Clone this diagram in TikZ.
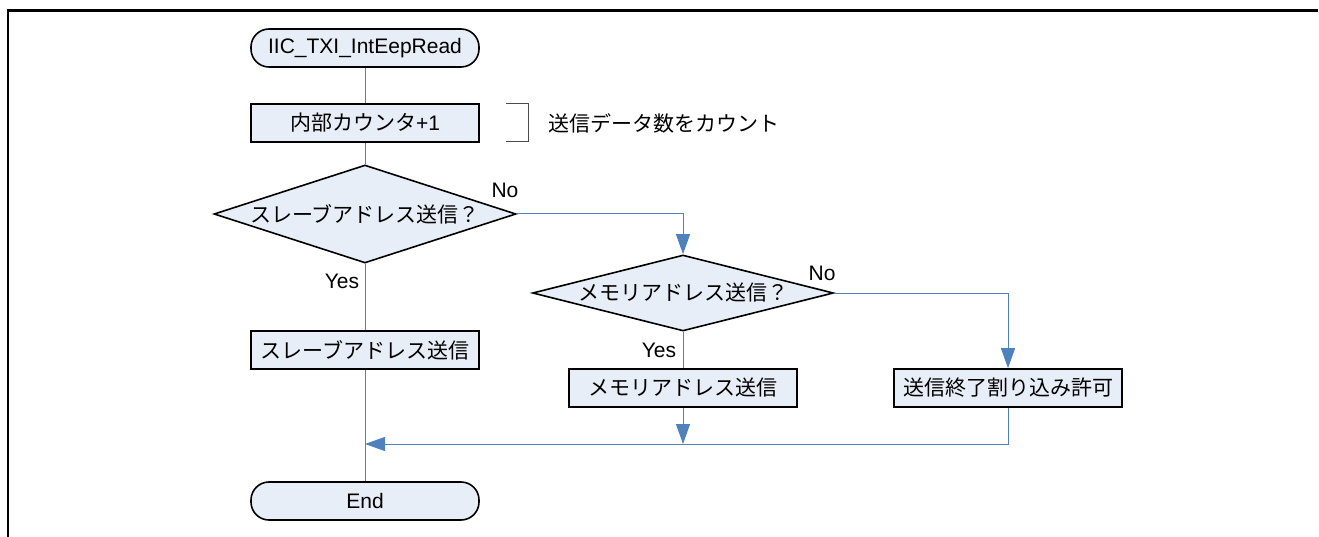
\documentclass[tikz,border=0pt]{standalone}
\usepackage{fontspec}
\setmainfont{Liberation Sans}
\newfontfamily\jp{Noto Sans CJK JP}
\usetikzlibrary{shapes,arrows.meta,positioning,calc}
\definecolor{boxfill}{RGB}{232,238,247}
\definecolor{flowblue}{RGB}{79,129,189}

\begin{document}
\begin{tikzpicture}[x=1pt,y=-1pt,font=\fontsize{21}{25}\selectfont]
  \tikzstyle{box}=[draw, line width=1.6pt, fill=boxfill, minimum width=228pt, minimum height=38pt, inner sep=0pt]
  \tikzstyle{terminal}=[box, rectangle, rounded corners=18pt]
  \tikzstyle{process}=[box, rectangle]
  \tikzstyle{decision}=[box, diamond, minimum width=302pt, minimum height=98pt, shape aspect=3]
  \tikzstyle{flow}=[draw=flowblue, line width=1pt]
  \tikzstyle{arrowflow}=[-{Triangle[length=20pt,width=14pt]}]

  \useasboundingbox (0,0) rectangle (1319,537);
  % page frame
  \draw[line width=2.5pt] (8,537) -- (8,10.5) -- (1318,10.5);

  \node[terminal] (start) at (365,48) {IIC\_TXI\_IntEepRead};
  \node[process] (cnt) at (365,123) {{\jp 内部カウンタ}+1};
  \node[decision] (d1) at (365,214) {\jp スレーブアドレス送信？};
  \node[decision, minimum width=301pt, minimum height=76pt, shape aspect=4] (d2) at (683,293) {\jp メモリアドレス送信？};
  \node[process] (slave) at (365,350) {\jp スレーブアドレス送信};
  \node[process] (mem) at (683,388) {\jp メモリアドレス送信};
  \node[process] (irq) at (1008,388) {\jp 送信終了割り込み許可};
  \node[terminal] (end) at (365,501) {End};
  \coordinate (join) at (365,444);

  % comment on the counter
  \node[right, inner sep=0pt] (note) at (548,123) {\jp 送信データ数をカウント};
  \draw[gray!60!black, line width=1pt] ($(cnt.north east)+(26,0)$) -- ++(23,0) -- ++(0,38) -- ++(-23,0);

  % branch labels
  \node (no1) at (505,190) {No};
  \node (no2) at (822,273) {No};
  \node (yes1) at (342,281) {Yes};
  \node (yes2) at (659,350) {Yes};

  \draw[flow] (start) -- (cnt);
  \draw[flow] (cnt) -- (d1);
  \draw[flow, arrowflow] (d1.east) -| (d2.north);
  \draw[flow] (d1.south) -- (slave.north);
  \draw[flow] (d2.south) -- (mem.north);
  \draw[flow, arrowflow] (d2.east) -| (irq.north);
  \draw[flow] (slave) -- (end);
  \draw[flow, arrowflow] (mem.south) -- (mem.south |- join);
  \draw[flow, arrowflow] (irq.south) |- (join);
\end{tikzpicture}
\end{document}
